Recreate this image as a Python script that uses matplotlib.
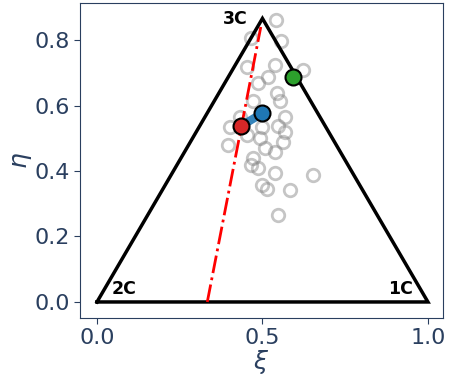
import matplotlib
matplotlib.use('Agg')
import matplotlib.pyplot as plt
import numpy as np

# grey background points (xi, eta)
grey_xi = [0.541, 0.556, 0.465, 0.453, 0.538, 0.622, 0.517, 0.486, 0.544, 0.553,
           0.471, 0.568, 0.402, 0.547, 0.568, 0.492, 0.396, 0.562, 0.508, 0.538,
           0.471, 0.465, 0.486, 0.538, 0.653, 0.498, 0.514, 0.583, 0.547, 0.432,
           0.498, 0.453]
grey_eta = [0.861, 0.797, 0.806, 0.718, 0.724, 0.708, 0.687, 0.669, 0.638, 0.614,
            0.614, 0.565, 0.534, 0.537, 0.519, 0.501, 0.479, 0.489, 0.470, 0.458,
            0.440, 0.418, 0.409, 0.394, 0.388, 0.357, 0.345, 0.342, 0.266, 0.565,
            0.534, 0.510]

red_pt = (0.435, 0.537)
blue_pt = (0.500, 0.577)
green_pt = (0.593, 0.687)

tri_x = [0, 1, 0.5, 0]
tri_y = [0, 0, np.sqrt(3) / 2, 0]

guide_x = [1 / 3, 0.495]
guide_y = [0, 0.84]

dark = '#2a3f5f'

fig = plt.figure(figsize=(4.5, 3.85), dpi=100)
ax = fig.add_axes([0.178, 0.174, 0.806, 0.818])

ax.plot(tri_x, tri_y, color='black', lw=2.5, solid_joinstyle='miter', zorder=2)
ax.plot(grey_xi, grey_eta, 'o', ms=9, mfc='none', mec='grey', mew=2,
        alpha=0.45, zorder=1)
ax.plot(guide_x, guide_y, color='red', lw=2, ls='-.', zorder=3)
ax.plot([red_pt[0], blue_pt[0]], [red_pt[1], blue_pt[1]],
        color='#1f77b4', lw=6, alpha=0.9, zorder=4)
ax.plot(*red_pt, 'o', ms=11.5, mfc='#d62728', mec='black', mew=1.5, zorder=5)
ax.plot(*blue_pt, 'o', ms=11.5, mfc='#1f77b4', mec='black', mew=1.5, zorder=5)
ax.plot(*green_pt, 'o', ms=11.5, mfc='#2ca02c', mec='black', mew=1.5, zorder=5)

ax.text(0.455, 0.865, '3C', fontsize=12.5, fontweight='bold', ha='right', va='center')
ax.text(0.045, 0.04, '2C', fontsize=12.5, fontweight='bold', ha='left', va='center')
ax.text(0.955, 0.04, '1C', fontsize=12.5, fontweight='bold', ha='right', va='center')

ax.set_xlim(-0.051, 1.045)
ax.set_ylim(-0.049, 0.913)
ax.set_xticks([0, 0.5, 1.0])
ax.set_yticks([0, 0.2, 0.4, 0.6, 0.8])
ax.tick_params(colors=dark, labelsize=16, length=4)
for s in ax.spines.values():
    s.set_color(dark)
ax.set_xlabel(r'$\xi$', fontsize=18, color=dark, labelpad=0)
ax.set_ylabel(r'$\eta$', fontsize=18, color=dark, labelpad=0)

fig.savefig('out.png', dpi=100)
